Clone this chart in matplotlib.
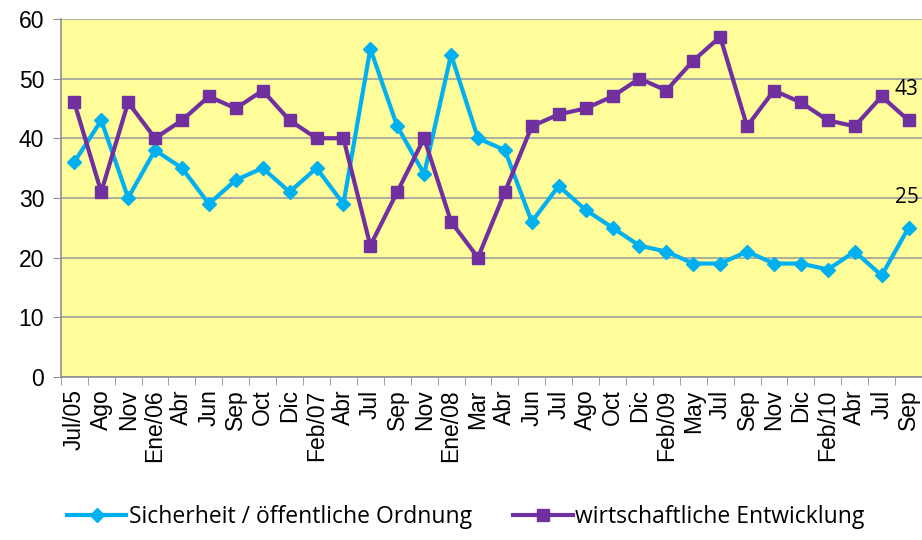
import matplotlib.pyplot as plt
import numpy as np

months = ["Jul/05", "Ago", "Nov", "Ene/06", "Abr", "Jun", "Sep", "Oct", "Dic", "Feb/07",
          "Abr", "Jul", "Sep", "Nov", "Ene/08", "Mar", "Abr", "Jun", "Jul", "Ago",
          "Oct", "Dic", "Feb/09", "May", "Jul", "Sep", "Nov", "Dic", "Feb/10", "Abr",
          "Jul", "Sep"]
sicherheit = [36, 43, 30, 38, 35, 29, 33, 35, 31, 35, 29, 55, 42, 34, 54, 40, 38, 26, 32, 28,
              25, 22, 21, 19, 19, 21, 19, 19, 18, 21, 17, 25]
wirtschaft = [46, 31, 46, 40, 43, 47, 45, 48, 43, 40, 40, 22, 31, 40, 26, 20, 31, 42, 44, 45,
              47, 50, 48, 53, 57, 42, 48, 46, 43, 42, 47, 43]

cyan = "#00B0F0"
purple = "#7030A0"

fig = plt.figure(figsize=(9.22, 5.4), dpi=100)
ax = fig.add_axes([0.066, 0.302, 0.934, 0.663])
ax.set_facecolor("#FFFC9A")

x = np.arange(len(months))
ax.plot(x, sicherheit, color=cyan, lw=3, marker="D", ms=7,
        label="Sicherheit / öffentliche Ordnung")
ax.plot(x, wirtschaft, color=purple, lw=3, marker="s", ms=9,
        label="wirtschaftliche Entwicklung")

# end-value labels
ax.annotate(str(wirtschaft[-1]), (x[-1], wirtschaft[-1]), xytext=(-10, 18),
            textcoords="offset points", fontsize=15, family="Open Sans")
ax.annotate(str(sicherheit[-1]), (x[-1], sicherheit[-1]), xytext=(-10, 18),
            textcoords="offset points", fontsize=15, family="Open Sans")

ax.set_xlim(-0.5, len(months) - 0.5)
ax.set_ylim(0, 60)
ax.set_yticks(range(0, 61, 10))
ax.yaxis.grid(True, color="#A0A0A0", lw=1.2)
ax.set_axisbelow(True)

ax.set_xticks(x)
ax.set_xticklabels(months, rotation=90, fontsize=16.5, family="Liberation Sans")
ax.set_xticks(np.arange(-0.5, len(months)), minor=True)
ax.tick_params(axis="x", which="major", length=0, pad=9)
ax.tick_params(axis="x", which="minor", length=6, color="#909090")
ax.tick_params(axis="y", length=6, color="#909090", labelsize=16.5, pad=6)
for lab in ax.get_yticklabels():
    lab.set_family("Liberation Sans")

for s in ["top", "right"]:
    ax.spines[s].set_visible(False)
for s in ["left", "bottom"]:
    ax.spines[s].set_color("#909090")
    ax.spines[s].set_linewidth(1.2)

fig.legend(loc="lower center", bbox_to_anchor=(0.505, -0.018), ncol=2, frameon=False,
           prop={"family": "Open Sans", "size": 16.5}, handlelength=2.6,
           handletextpad=0.1, columnspacing=1.8)

fig.savefig("out.png", dpi=100)
